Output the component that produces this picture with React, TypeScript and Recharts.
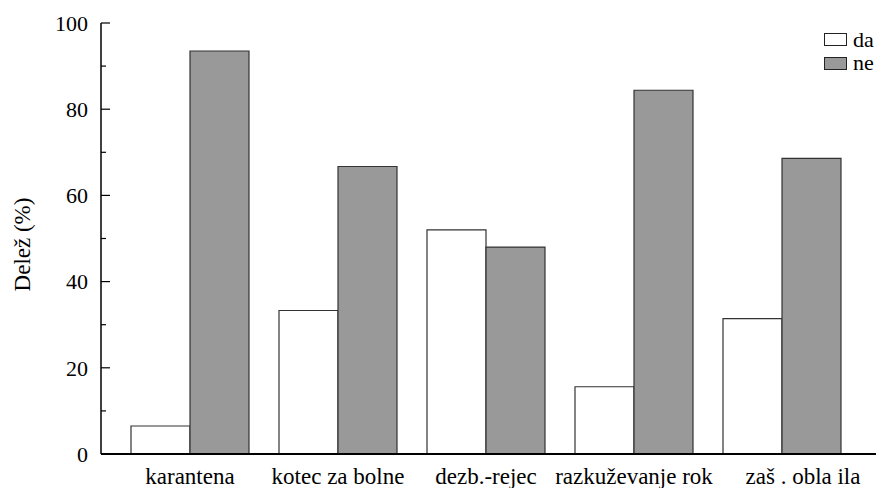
import React from 'react';
import { BarChart, Bar, XAxis, YAxis, Legend, Label } from 'recharts';

const categories = ['karantena', 'kotec za bolne', 'dezb.-rejec', 'razkuževanje rok', 'zaš . obla ila'];
const daValues = [6.5, 33.3, 52.0, 15.6, 31.4];
const neValues = [93.5, 66.7, 48.0, 84.4, 68.6];
const yTicks = [0, 10, 20, 30, 40, 50, 60, 70, 80, 90, 100];
const yLabel = 'Delež (%)';

const data = categories.map((c, i) => ({ name: c, da: daValues[i], ne: neValues[i] }));

const FONT = '"Liberation Serif", "Times New Roman", serif';

const YTick = (props: any) => {
  const { x, y, payload } = props;
  const v = payload.value;
  const major = v % 20 === 0;
  const ax = x + 13;
  return (
    <g>
      <line x1={ax} x2={ax + (major ? 9 : 5)} y1={y} y2={y} stroke="#000" strokeWidth={1.2} />
      {major && (
        <text x={x} y={y} dy="0.35em" textAnchor="end" style={{ fontSize: 22, fontFamily: FONT }} fill="#000">
          {v}
        </text>
      )}
    </g>
  );
};

const XTick = (props: any) => {
  const { x, y, payload, index } = props;
  // the last label in the original sits a little right of its category centre
  const shift = index === categories.length - 1 ? 21 : 0;
  return (
    <text x={x + shift} y={y} dy={16} textAnchor="middle" style={{ fontSize: 23, fontFamily: FONT }} fill="#000">
      {payload.value}
    </text>
  );
};

const LegendContent = (props: any) => {
  const { payload } = props;
  return (
    <div style={{ fontFamily: FONT, fontSize: 22, color: '#000' }}>
      {(payload || []).map((p: any) => (
        <div key={p.value} style={{ display: 'flex', alignItems: 'center', height: 23.5, whiteSpace: 'nowrap' }}>
          <div
            style={{
              width: 21,
              height: 11,
              border: '1px solid #222',
              background: p.color,
              marginRight: 6,
              flex: 'none',
            }}
          />
          <span>{p.value}</span>
        </div>
      ))}
    </div>
  );
};

const YLabel = (props: any) => {
  const { viewBox } = props;
  const cx = viewBox.x + 22;
  const cy = viewBox.y + viewBox.height / 2 + 6;
  return (
    <text
      x={cx}
      y={cy}
      transform={`rotate(-90, ${cx}, ${cy})`}
      textAnchor="middle"
      dominantBaseline="central"
      style={{ fontSize: 23, fontFamily: FONT }}
      fill="#000"
    >
      {yLabel}
    </text>
  );
};

export default function App() {
  return (
    <div style={{ position: 'absolute', left: 0, top: 0, width: 876, height: 488, overflow: 'hidden', background: '#fff', fontFamily: FONT }}>
      <BarChart
        width={876}
        height={488}
        data={data}
        margin={{ top: 23, right: 0, left: 0, bottom: 0 }}
        barCategoryGap={15}
        barGap={0}
        style={{ fontFamily: FONT }}
      >
        <XAxis
          dataKey="name"
          height={34}
          padding={{ left: 15, right: 20 }}
          tickLine={false}
          tickSize={0}
          tickMargin={14}
          axisLine={{ stroke: '#000', strokeWidth: 2 }}
          tick={<XTick />}
          interval={0}
        />
        <YAxis
          width={101}
          domain={[0, 100]}
          ticks={yTicks}
          interval={0}
          tickLine={false}
          tickSize={0}
          tickMargin={13}
          axisLine={{ stroke: '#000', strokeWidth: 1.5 }}
          tick={<YTick />}
        >
          <Label content={<YLabel />} />
        </YAxis>
        <Legend
          layout="vertical"
          align="center"
          verticalAlign="middle"
          content={<LegendContent />}
          wrapperStyle={{ position: 'absolute', left: 824, top: 28, width: 100, bottom: 'auto', right: 'auto' }}
        />
        <Bar dataKey="da" name="da" fill="#ffffff" stroke="#333" strokeWidth={1.2} isAnimationActive={false} />
        <Bar dataKey="ne" name="ne" fill="#999999" stroke="#333" strokeWidth={1.2} isAnimationActive={false} />
      </BarChart>
    </div>
  );
}
